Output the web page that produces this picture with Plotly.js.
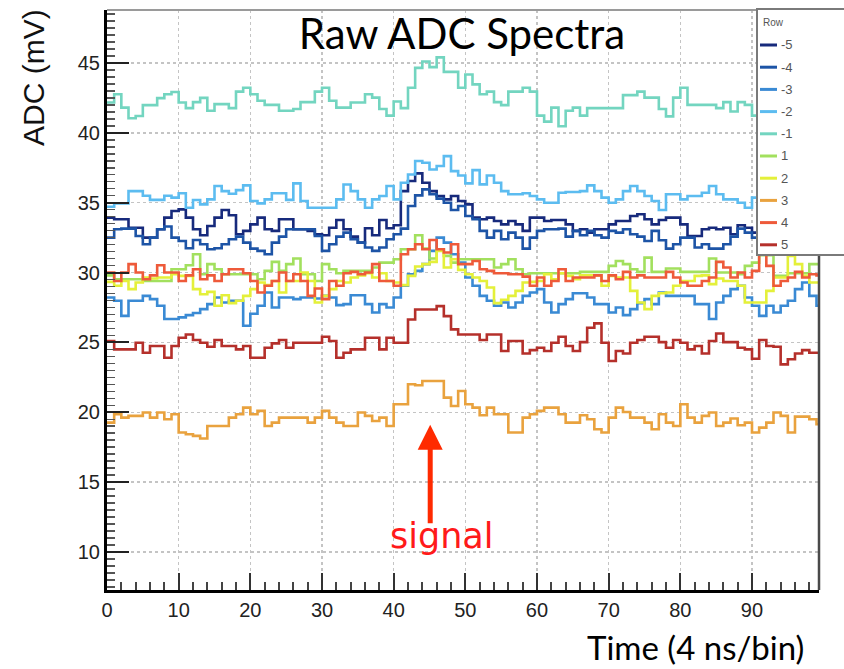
<!DOCTYPE html>
<html><head><meta charset="utf-8">
<script src="https://cdn.plot.ly/plotly-3.0.1.min.js"></script>
<style>html,body{margin:0;padding:0;background:#fff}#chart{width:844px;height:669px}</style>
</head><body><div id="chart"></div>
<script>
// Legend labels (Row) and colours
const rows = ["-5","-4","-3","-2","-1","1","2","3","4","5"];
const colors = ["#172a7c","#1d54a6","#3a8ad4","#5cbcf0","#73d5c0","#a2e05e","#e4f03a","#e9a23e","#ee5a3a","#b5302b"];

// ADC value (mV) per time bin (0..99)
const rowM5 = [33.93,33.81,33.81,33.21,33.21,32.5,32.5,33.1,33.93,34.4,
 34.52,33.93,33.1,32.67,33.33,33.93,34.48,34.1,32.74,32.98,
 33.45,33.93,33.1,32.98,33.81,33.81,33.1,33.1,32.98,32.74,
 32.67,33.21,33.76,33.1,32.57,32.14,33.17,32.67,33.76,33.17,
 33.38,35.83,36.55,37.1,36.43,35.83,35.48,35.24,35.48,35.12,
 34.88,33.93,33.81,33.93,33.69,33.45,33.69,33.45,32.98,33.93,
 33.93,33.69,33.76,33.76,33.45,32.98,33.1,32.86,33.1,33.1,
 33.45,33.69,33.69,34.05,34.17,33.81,33.45,33.76,33.93,33.93,
 33.45,32.62,32.62,33.1,33.21,33.1,33.21,32.74,33.38,33.21,
 32.86,33.2,33.0,33.4,33.1,32.9,33.3,33.0,33.2,33.1];
const rowM4 = [32.5,33.1,33.14,33.14,32.62,32.02,32.5,33.1,33.29,32.5,
 32.26,31.74,32.33,32.02,31.67,31.74,32.02,32.38,32.57,32.14,
 31.71,31.55,31.31,32.14,32.57,33.1,33.1,33.1,33.1,32.62,
 31.55,32.02,32.57,32.86,32.38,32.14,31.79,31.55,31.79,32.38,
 32.74,33.14,34.76,35.52,35.95,35.6,35.29,35.0,34.48,34.76,
 34.05,33.81,32.98,32.5,32.98,32.38,32.86,32.5,31.71,32.5,
 32.98,33.1,33.1,33.14,32.57,32.98,32.67,32.98,32.67,32.5,
 32.98,32.86,33.1,32.74,32.57,32.26,32.98,32.31,31.71,32.02,
 32.5,32.5,31.79,32.02,31.71,31.71,32.02,32.57,33.14,32.86,
 32.5,32.3,32.6,32.4,32.7,32.5,32.2,32.6,32.4,32.5];
const rowM3 = [28.21,27.98,26.9,27.98,27.98,28.33,28.1,27.62,26.67,26.67,
 26.79,26.95,27.1,27.38,27.74,28.21,27.86,27.98,27.98,26.19,
 27.05,27.62,28.57,27.5,28.21,28.21,28.1,28.21,28.21,28.14,
 28.33,28.21,27.67,27.74,28.38,28.38,27.74,27.14,27.74,27.5,
 28.21,29.05,29.88,30.12,30.6,31.55,32.5,32.14,31.31,30.71,
 29.64,29.05,28.33,27.98,27.62,27.86,27.5,27.86,28.33,28.57,
 28.81,27.86,27.14,27.74,28.1,28.52,28.52,28.21,27.74,27.74,
 27.14,27.5,26.95,27.38,27.81,28.1,27.74,28.57,28.33,28.33,
 28.33,28.33,27.74,27.74,26.67,27.86,28.33,28.81,29.05,28.21,
 27.62,26.9,27.62,27.14,27.62,27.98,28.81,29.29,28.33,27.62];
const rowM2 = [34.71,34.95,34.95,35.83,35.83,35.5,35.2,35.2,35.5,35.36,
 35.67,34.64,35.19,34.88,35.24,36.19,35.83,35.64,35.9,36.24,
 35.12,34.95,35.24,35.67,35.67,35.2,36.38,35.12,34.64,34.64,
 34.64,34.64,35.24,36.3,35.83,35.24,34.64,35.24,35.48,36.19,
 35.24,36.43,37.02,37.98,37.86,37.38,37.62,38.33,37.26,36.95,
 36.38,37.33,36.31,36.95,36.43,35.83,35.6,35.6,35.67,35.48,
 35.24,35.0,35.0,35.71,35.76,35.76,35.83,36.24,35.83,35.36,
 35.0,35.24,35.83,36.19,35.83,35.48,35.12,34.48,35.6,35.6,
 35.24,35.48,35.48,35.71,36.19,35.6,35.24,35.24,35.0,34.64,
 35.36,35.2,35.5,35.3,35.0,35.4,35.6,35.2,35.1,35.3];
const rowM1 = [42.17,42.76,41.8,41.04,41.2,41.98,41.98,42.48,42.76,42.92,
 42.17,41.77,42.2,42.5,41.58,42.05,42.05,41.77,42.95,43.23,
 42.76,42.29,42.0,42.0,41.58,41.58,41.7,42.2,42.2,42.95,
 43.23,42.29,41.8,41.8,42.17,42.17,42.76,42.52,41.7,41.23,
 42.24,41.77,43.23,44.65,45.1,44.7,45.4,44.36,44.36,43.23,
 44.17,43.47,42.76,42.95,42.2,41.98,42.95,42.95,43.23,42.95,
 41.23,40.8,41.8,40.47,41.58,41.8,41.23,41.77,41.77,41.77,
 41.77,41.77,42.7,42.7,42.95,42.52,42.52,41.7,41.18,42.52,
 43.23,42.0,42.0,42.0,42.0,41.77,42.2,41.53,42.2,42.0,
 41.23,41.6,41.9,41.7,42.1,41.8,41.5,41.9,42.0,41.7];
const rowP1 = [29.8,29.52,29.52,29.52,29.52,29.4,29.4,29.4,29.4,30.24,
 30.24,30.52,31.31,29.88,30.6,30.24,29.88,29.88,29.88,29.88,
 29.88,29.52,30.12,30.76,30.12,30.6,31.0,29.88,29.88,29.4,
 30.6,30.24,29.95,30.12,30.12,30.12,30.12,30.36,30.71,30.71,
 30.95,31.67,31.67,32.67,31.71,31.0,31.67,31.19,30.71,30.95,
 30.95,30.95,30.95,30.95,30.36,30.6,30.95,30.24,29.88,29.95,
 29.95,29.95,29.95,29.95,29.95,29.95,30.05,30.05,30.05,30.05,
 30.48,30.83,30.6,30.24,30.05,31.07,30.05,30.05,30.29,30.29,
 30.05,30.05,30.05,30.05,31.0,30.0,30.0,30.0,29.88,30.48,
 30.71,31.24,31.24,29.76,29.76,29.95,29.95,29.95,30.6,30.6];
const rowP2 = [29.33,29.05,29.4,28.81,29.29,29.64,29.57,29.64,29.64,29.88,
 29.76,29.76,28.81,28.45,28.62,27.62,28.38,27.81,27.98,28.33,
 28.81,29.29,29.1,29.4,28.57,29.4,29.4,30.0,29.4,27.86,
 28.33,28.81,29.4,29.29,29.64,29.8,29.95,29.64,29.95,29.4,
 29.29,29.1,29.76,30.43,30.6,30.76,31.55,30.36,30.95,30.19,
 29.88,29.64,29.4,28.93,27.81,28.05,28.33,28.69,29.29,29.33,
 29.4,29.88,29.52,29.95,29.76,29.52,29.8,29.8,29.8,29.05,
 29.76,29.64,29.64,28.69,27.86,27.38,28.33,28.52,28.57,29.05,
 29.4,29.4,29.76,29.8,29.17,29.57,29.4,29.4,29.05,27.86,
 27.86,27.86,28.69,29.64,29.64,31.19,30.6,29.76,29.29,29.29];
const rowP3 = [19.26,19.86,19.62,19.74,19.74,19.98,19.62,19.98,19.5,19.86,
 18.55,18.43,18.31,18.12,19.02,19.02,19.02,19.62,19.86,20.33,
 19.86,20.1,19.02,19.26,19.62,19.62,19.62,19.62,19.26,19.62,
 20.1,19.62,19.26,19.02,19.02,19.98,19.74,19.38,19.62,19.02,
 20.57,20.57,22.0,21.93,22.24,22.24,22.24,21.05,20.45,21.52,
 20.57,20.33,19.79,20.33,19.86,19.86,18.55,18.55,19.62,19.86,
 20.1,20.33,20.33,19.86,19.26,19.26,19.79,19.5,18.79,18.55,
 19.62,20.33,20.02,19.62,19.62,19.26,18.79,19.86,19.26,19.02,
 20.57,19.62,19.26,19.74,19.98,19.02,19.26,19.55,19.07,19.26,
 18.55,18.9,19.26,19.98,19.74,18.55,19.69,19.69,19.5,19.14];
const rowP4 = [30.0,29.4,30.0,30.6,30.0,29.52,29.8,30.52,30.0,30.0,
 29.4,29.8,30.24,29.52,29.8,29.4,29.88,30.24,30.24,29.95,
 29.4,28.57,29.05,29.4,30.0,29.4,29.88,29.4,28.33,28.86,
 28.1,29.4,29.05,29.95,30.05,29.88,30.0,30.6,29.4,29.4,
 29.05,31.31,31.67,32.02,31.67,32.33,31.67,31.43,32.02,30.6,
 30.6,30.83,30.24,30.12,29.95,29.95,29.88,29.88,29.71,29.05,
 29.64,29.05,29.4,30.24,29.4,29.64,29.64,29.64,29.8,29.4,
 29.8,29.52,30.05,29.64,29.8,29.64,29.64,29.64,30.05,29.64,
 29.29,29.05,29.05,29.4,29.64,30.76,30.36,29.64,30.0,29.64,
 30.12,31.31,30.48,29.05,29.4,29.64,30.05,29.64,29.88,29.8];
const rowP5 = [25.1,24.5,24.5,24.5,24.98,24.26,24.74,24.74,23.9,24.74,
 25.33,25.57,25.17,24.98,24.69,25.17,24.74,24.74,24.5,24.74,
 23.9,23.9,24.62,24.93,25.17,24.62,24.98,24.98,24.98,24.98,
 25.4,25.1,23.9,24.26,24.5,24.5,25.33,25.33,24.5,25.33,
 24.98,24.98,26.64,27.36,27.36,27.36,27.6,26.88,25.93,25.57,
 25.57,25.57,25.17,25.57,25.57,24.38,25.1,25.1,24.21,24.45,
 24.62,24.38,24.98,25.4,24.74,24.38,25.02,26.05,26.36,24.98,
 23.67,24.38,24.21,24.98,25.17,25.4,25.4,25.02,24.62,25.17,
 24.98,24.5,24.74,24.21,25.1,25.64,25.02,25.02,24.62,24.5,
 23.83,25.17,24.74,24.69,23.43,23.79,24.21,24.45,24.26,24.26];

const series = [rowM5,rowM4,rowM3,rowM2,rowM1,rowP1,rowP2,rowP3,rowP4,rowP5];

// Signal marker position (bin, mV) and label
const signalBin = 45.1, signalADC = 19.1, signalLabel = "signal";

// ---- layout geometry (pixels) ----
const W = 844, H = 669, L = 107, R = 25, T = 10, B = 79;
const PW = W - L - R, PH = H - T - B;
const fx = px => (px - L) / PW;
const fy = py => (H - B - py) / PH;

const traces = series.map((vals, i) => {
  const xs = vals.map((_, k) => k);
  const ys = vals.slice();
  xs.push(vals.length); ys.push(vals[vals.length - 1]);
  return {x: xs, y: ys, type: 'scatter', mode: 'lines', name: rows[i],
    line: {shape: 'hv', color: colors[i], width: 2.6}, showlegend: false, hoverinfo: 'skip'};
});

const shapes = [
  {type:'line', xref:'paper', yref:'paper', x0:0, x1:fx(850), y0:fy(10), y1:fy(10), line:{color:'#9a9a9a', width:2}},
  {type:'line', xref:'paper', yref:'paper', x0:fx(819), x1:fx(819), y0:0, y1:fy(255), line:{color:'#4a4a4a', width:2.5}},
  {type:'rect', xref:'paper', yref:'paper', x0:fx(757), x1:fx(852), y0:fy(255), y1:fy(9), fillcolor:'#ffffff', line:{color:'#7a7a7a', width:2}}
];
const annotations = [
  {xref:'paper', yref:'paper', x:fx(761), y:fy(22), xanchor:'left', yanchor:'middle', text:'Row', showarrow:false,
   font:{family:'Liberation Sans, Arial, sans-serif', size:10, color:'#555'}}
];
rows.forEach((r, i) => {
  const py = 45 + 22.2 * i;
  shapes.push({type:'line', xref:'paper', yref:'paper', x0:fx(760), x1:fx(777), y0:fy(py), y1:fy(py), line:{color:colors[i], width:3}});
  annotations.push({xref:'paper', yref:'paper', x:fx(779), y:fy(py), xanchor:'left', yanchor:'middle', text:r, showarrow:false,
    font:{family:'Liberation Sans, Arial, sans-serif', size:13, color:'#555'}});
});
annotations.push(
  {xref:'paper', yref:'paper', x:fx(33), y:fy(78), text:'ADC (mV)', textangle:-90, showarrow:false,
   xanchor:'center', yanchor:'middle', font:{family:'Liberation Sans, Arial, sans-serif', size:30, color:'#111'}},
  {xref:'paper', yref:'paper', x:fx(695), y:fy(647), text:'Time (4 ns/bin)', showarrow:false,
   xanchor:'center', yanchor:'middle', font:{family:'Lato, sans-serif', size:33, color:'#000'}},
  {xref:'paper', yref:'paper', x:fx(442), y:fy(536), text:signalLabel, showarrow:false,
   xanchor:'center', yanchor:'middle', font:{family:'DejaVu Sans, sans-serif', size:35, color:'#ff1a1a'}},
  {xref:'x', yref:'y', x:signalBin, y:signalADC, text:'', showarrow:true, ax:0, ay:100,
   arrowcolor:'#ff2a00', arrowwidth:5, arrowhead:2, arrowsize:1}
);

const layout = {
  width: W, height: H,
  margin: {l:L, r:R, t:T, b:B, pad:0},
  paper_bgcolor:'#ffffff', plot_bgcolor:'#ffffff',
  showlegend:false,
  title: {text:'Raw ADC Spectra', xref:'container', yref:'container', x:462/W, y:1-34/H,
    xanchor:'center', yanchor:'middle', font:{family:'Lato, sans-serif', size:42, color:'#000'}},
  xaxis: {range:[0, 99.35], tickmode:'linear', tick0:0, dtick:10, ticks:'inside', ticklen:17, tickwidth:2, tickcolor:'#333',
    showline:true, linecolor:'#000', linewidth:3, zeroline:false,
    showgrid:true, gridcolor:'#c4c4c4', griddash:'dot', gridwidth:1.5,
    tickfont:{family:'Liberation Sans, Arial, sans-serif', size:20, color:'#222'},
    minor:{dtick:2, ticks:'inside', ticklen:8, tickwidth:2, tickcolor:'#444', showgrid:false},
    fixedrange:true},
  yaxis: {range:[7.28, 48.79], tickmode:'linear', tick0:0, dtick:5, ticks:'inside', ticklen:22, tickwidth:2, tickcolor:'#222',
    showline:true, linecolor:'#000', linewidth:3, zeroline:false,
    showgrid:true, gridcolor:'#c4c4c4', griddash:'dot', gridwidth:1.5,
    tickfont:{family:'Liberation Sans, Arial, sans-serif', size:20, color:'#222'},
    minor:{dtick:0.5, ticks:'inside', ticklen:8, tickwidth:1.5, tickcolor:'#555', showgrid:false},
    fixedrange:true},
  shapes: shapes,
  annotations: annotations
};

Plotly.newPlot('chart', traces, layout, {displayModeBar:false, staticPlot:true});
</script>
</body></html>
